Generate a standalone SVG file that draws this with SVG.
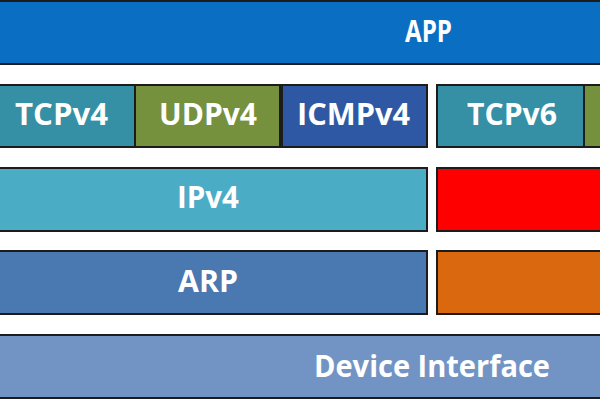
<svg xmlns="http://www.w3.org/2000/svg" width="600" height="400" viewBox="0 0 600 400">
<style>
.b{stroke:#1c1c1c;stroke-width:2}
.t{font-family:"Open Sans","Noto Sans","Liberation Sans",sans-serif;font-weight:bold;font-size:30px;fill:#ffffff;text-anchor:middle}
</style>
<rect width="600" height="400" fill="#ffffff"/>
<g id="app"><rect class="b" x="-5" y="1" width="610" height="63" fill="#0a6fc2"/><text class="t" x="428.5" y="42" textLength="47" lengthAdjust="spacingAndGlyphs">APP</text></g>
<g id="tcpv4"><rect class="b" x="-5" y="85" width="140" height="62" fill="#3590a6"/><text class="t" x="61.5" y="125" textLength="93" lengthAdjust="spacingAndGlyphs">TCPv4</text></g>
<g id="udpv4"><rect class="b" x="135" y="85" width="145" height="62" fill="#76913d"/><text class="t" x="208" y="125" textLength="98" lengthAdjust="spacingAndGlyphs">UDPv4</text></g>
<g id="icmpv4"><rect class="b" x="282" y="85" width="145" height="62" fill="#2f58a4"/><text class="t" x="353.5" y="125" textLength="113" lengthAdjust="spacingAndGlyphs">ICMPv4</text></g>
<g id="tcpv6"><rect class="b" x="437" y="85" width="147" height="62" fill="#3590a6"/><text class="t" x="512" y="125" textLength="90" lengthAdjust="spacingAndGlyphs">TCPv6</text></g>
<g id="udpv6"><rect class="b" x="584" y="85" width="30" height="62" fill="#76913d"/></g>
<g id="ipv4"><rect class="b" x="-5" y="168" width="432" height="63" fill="#4bacc6"/><text class="t" x="208" y="208" textLength="62" lengthAdjust="spacingAndGlyphs">IPv4</text></g>
<g id="ipv6"><rect class="b" x="437" y="168" width="175" height="63" fill="#ff0000"/></g>
<g id="arp"><rect class="b" x="-5" y="251" width="432" height="63" fill="#4a78b0"/><text class="t" x="208" y="292" textLength="60" lengthAdjust="spacingAndGlyphs">ARP</text></g>
<g id="ndp"><rect class="b" x="437" y="251" width="175" height="63" fill="#d9680f"/></g>
<g id="device"><rect class="b" x="-5" y="335" width="610" height="63" fill="#7294c4"/><text class="t" x="432" y="377" textLength="236" lengthAdjust="spacingAndGlyphs">Device Interface</text></g>
<g id="connectors"></g>
</svg>
